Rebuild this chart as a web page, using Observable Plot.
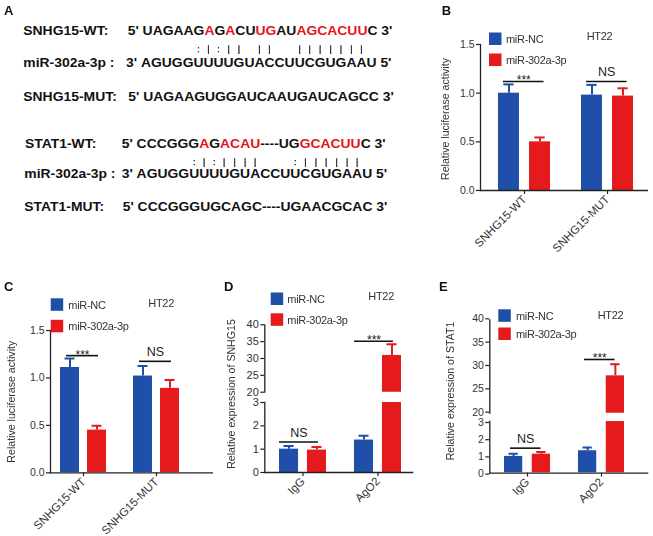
<!DOCTYPE html>
<html><head><meta charset="utf-8">
<script src="https://cdn.jsdelivr.net/npm/d3@7"></script>
<script src="https://cdn.jsdelivr.net/npm/@observablehq/plot@0.6"></script>
<style>
html,body{margin:0;padding:0;background:#fff;}
#fig{position:relative;width:653px;height:536px;overflow:hidden;background:#fff;}
#fig svg{position:absolute;overflow:visible;}
.pairs{opacity:0.99;will-change:transform;}
</style></head>
<body><div id="fig"></div>
<script>
const FONT = '"Liberation Sans", Arial, Helvetica, sans-serif';
const BLUE = "#1f4fa8", RED = "#e41a1c", SEQRED = "#e8141b";

// ---------- Panel A data ----------
const miR302 = "AGUGGUUUUGUACCUUCGUGAAU";
const snhg15WT = "UAGAAGAGACUUGAUAGCACUUC";
const snhg15WTred = "00000010100110011111110";
const snhg15MUT = "UAGAAGUGGAUCAAUGAUCAGCC";
const snhg15Pairs = "     :|:|| ||  |||||||";
const stat1WT = "CCCGGGAGACAU----UGGCACUUC";
const stat1WTred = "0000001011110000001111110";
const stat1MUT = "CCCGGGUGCAGC----UGAACGCAC";
const stat1Pairs = "     :|:||||   :||||||";

// ---------- Panels B-E data ----------
const seriesNames = ["miR-NC", "miR-302a-3p"];
const seriesColors = [BLUE, RED];
const cellLine = "HT22";

const bGroups = ["SNHG15-WT", "SNHG15-MUT"];
const bNC = [1.00, 0.98];
const bNCsd = [0.09, 0.105];
const bMiR = [0.50, 0.97];
const bMiRsd = [0.045, 0.08];
const bSigY = [1.12, 1.12];
const bSigText = ["***", "NS"];

const cGroups = ["SNHG15-WT", "SNHG15-MUT"];
const cNC = [1.11, 1.02];
const cNCsd = [0.095, 0.105];
const cMiR = [0.45, 0.89];
const cMiRsd = [0.045, 0.088];
const cSigY = [1.235, 1.175];
const cSigText = ["***", "NS"];

const dGroups = ["IgG", "AgO2"];
const dNC = [1.0, 1.39];
const dNCsd = [0.14, 0.18];
const dMiR = [0.96, 30.9];
const dMiRsd = [0.13, 3.3];
const dSigY = [1.31, 35.1];
const dSigText = ["NS", "***"];

const eGroups = ["IgG", "AgO2"];
const eNC = [0.97, 1.3];
const eNCsd = [0.15, 0.19];
const eMiR = [1.1, 28.0];
const eMiRsd = [0.13, 2.5];
const eSigY = [1.45, 31.5];
const eSigText = ["NS", "***"];

const yLabelLuc = "Relative luciferase activity";
const yLabelD = "Relative expression of SNHG15";
const yLabelE = "Relative expression of STAT1";

// ---------- helpers ----------
const NS = "http://www.w3.org/2000/svg";
const fig = document.getElementById("fig");
function el(tag, attrs, parent, text) {
  const e = document.createElementNS(NS, tag);
  for (const k in attrs) e.setAttribute(k, attrs[k]);
  if (text != null) e.textContent = text;
  if (parent) parent.appendChild(e);
  return e;
}

// ---------- Panel A ----------
const aSvg = el("svg", {width: 653, height: 536, style: "left:0;top:0"}, fig);
const SX = 1.14, FS = 12.2;
function label(x, y, txt) {
  const g = el("g", {transform: `translate(${x},${y}) scale(${SX},1)`}, aSvg);
  el("text", {x: 0, y: 0, "font-family": FONT, "font-size": FS, "font-weight": "bold", fill: "#111"}, g, txt);
}
function seqRow(x, y, prefix, seq, mask, suffix) {
  const g = el("g", {transform: `translate(${x},${y}) scale(${SX},1)`}, aSvg);
  const t = el("text", {x: 0, y: 0, "font-family": FONT, "font-size": FS, "font-weight": "bold", fill: "#111"}, g);
  t.setAttribute("xml:space", "preserve");
  el("tspan", {}, t, prefix);
  let i = 0;
  while (i < seq.length) {
    const red = mask ? mask[i] === "1" : false;
    let j = i;
    while (j < seq.length && (mask ? mask[j] === "1" : false) === red) j++;
    el("tspan", red ? {fill: SEQRED} : {}, t, seq.slice(i, j));
    i = j;
  }
  el("tspan", {}, t, suffix);
  return {g, t, x, offset: prefix.length};
}
function pairRow(ref, y, pairs) {
  const g = el("g", {class: "pairs"}, aSvg);
  for (let i = 0; i < pairs.length; i++) {
    const c = pairs[i];
    if (c === " ") continue;
    const ext = ref.t.getExtentOfChar(ref.offset + i);
    el("text", {x: ref.x + (ext.x + ext.width / 2) * SX, y, "text-anchor": "middle", "font-family": FONT,
      "font-size": 9, fill: "#1a1a1a", stroke: "#1a1a1a", "stroke-width": 0.35,
      "text-rendering": "geometricPrecision"}, g, c);
  }
}
// SNHG15 block
label(23.3, 35, "SNHG15-WT:");
seqRow(127.7, 35, "5' ", snhg15WT, snhg15WTred, " 3'");
label(23.3, 66.7, "miR-302a-3p :");
const mir1 = seqRow(126, 66.7, "3' ", miR302, null, " 5'");
pairRow(mir1, 51.5, snhg15Pairs);
label(23.3, 101, "SNHG15-MUT:");
seqRow(128.3, 101, "5' ", snhg15MUT, null, " 3'");
// STAT1 block
label(25, 147.5, "STAT1-WT:");
seqRow(121.7, 147.5, "5' ", stat1WT, stat1WTred, " 3'");
label(24.3, 177.5, "miR-302a-3p :");
const mir2 = seqRow(121.7, 177.5, "3' ", miR302, null, " 5'");
pairRow(mir2, 165, stat1Pairs);
label(24.3, 211, "STAT1-MUT:");
seqRow(122.7, 211, "5' ", stat1MUT, null, " 3'");

// ---------- bar panels ----------
function makeRows(groups, nc, ncSd, mir, mirSd) {
  return groups.flatMap((g, i) => [
    {group: g, series: seriesNames[0], value: nc[i], err: ncSd[i]},
    {group: g, series: seriesNames[1], value: mir[i], err: mirSd[i]}
  ]);
}
function makeSig(groups, ys, texts) {
  return groups.map((g, i) => ({group: g, y: ys[i], label: texts[i]}));
}
function drawPart(cfg, part, rows, sig) {
  const plotW = part.width - part.mL - part.mR;
  const n = cfg.groups.length;
  const step = plotW / Math.max(1, n - cfg.pi + 2 * cfg.po);
  const bw = step * (1 - cfg.pi);
  const barW = bw * cfg.barFrac;
  const ins = bw - barW;
  const off = ins / 2;
  const cap = 10;
  const ncRows = rows.filter(d => d.series === seriesNames[0]);
  const mrRows = rows.filter(d => d.series === seriesNames[1]);
  const [y0, y1] = part.domain;
  const sigHere = sig.filter(d => d.y >= y0 && d.y <= y1);
  const stars = sigHere.filter(d => d.label !== "NS");
  const nsTxt = sigHere.filter(d => d.label === "NS");
  const sdx = (cfg.sigL - cfg.sigR) / 2;
  const marks = [
    Plot.barY(ncRows, {x: "group", y: "value", fill: seriesColors[0], insetRight: ins, clip: true}),
    Plot.barY(mrRows, {x: "group", y: "value", fill: seriesColors[1], insetLeft: ins, clip: true}),
    Plot.ruleX(ncRows, {x: "group", y1: "value", y2: d => d.value + d.err, stroke: seriesColors[0], strokeWidth: 2, dx: -off, clip: true}),
    Plot.ruleX(mrRows, {x: "group", y1: "value", y2: d => d.value + d.err, stroke: seriesColors[1], strokeWidth: 2, dx: off, clip: true}),
    Plot.tickY(ncRows, {x: "group", y: d => d.value + d.err, stroke: seriesColors[0], strokeWidth: 2,
      insetLeft: barW / 2 - cap / 2, insetRight: bw - barW / 2 - cap / 2, clip: true}),
    Plot.tickY(mrRows, {x: "group", y: d => d.value + d.err, stroke: seriesColors[1], strokeWidth: 2,
      insetLeft: bw - barW / 2 - cap / 2, insetRight: barW / 2 - cap / 2, clip: true}),
    Plot.tickY(sigHere, {x: "group", y: "y", stroke: "#111", strokeWidth: 1.6, insetLeft: cfg.sigL, insetRight: cfg.sigR}),
    Plot.text(stars, {x: "group", y: "y", text: "label", lineAnchor: "bottom", dx: sdx, dy: 3, fontSize: 12, fill: "#222"}),
    Plot.text(nsTxt, {x: "group", y: "y", text: "label", lineAnchor: "bottom", dx: sdx, dy: -5, fontSize: 12.5, fill: "#222"}),
    Plot.axisY({ticks: part.ticks, tickFormat: part.fmt, tickSize: 4, tickPadding: 2, fontSize: cfg.tickFont, fill: "#333", label: null, strokeWidth: 1.2, dy: part.tickDy || 0}),
    Plot.frame({anchor: "left", strokeWidth: 1.3})
  ];
  if (part.xAxis) {
    marks.push(Plot.ruleY([y0], {strokeWidth: 1.3}));
    marks.push(Plot.axisX({tickRotate: -45, tickSize: 4, tickPadding: 3, fontSize: 11.5, fill: "#333", label: null, strokeWidth: 1.2}));
  }
  const p = Plot.plot({
    width: part.width, height: part.height,
    marginLeft: part.mL, marginRight: part.mR, marginTop: part.mT, marginBottom: part.mB,
    style: {fontFamily: FONT, fontSize: "10px", color: "#222", background: "transparent", overflow: "visible"},
    x: {domain: cfg.groups, paddingInner: cfg.pi, paddingOuter: cfg.po, align: cfg.align, axis: part.xAxis ? undefined : null},
    y: {domain: part.domain},
    marks
  });
  p.style.position = "absolute";
  p.style.left = part.left + "px";
  p.style.top = part.top + "px";
  fig.appendChild(p);
}
function panel(cfg) {
  const rows = makeRows(cfg.groups, cfg.nc, cfg.ncSd, cfg.mir, cfg.mirSd);
  const sig = makeSig(cfg.groups, cfg.sigY, cfg.sigText);
  for (const part of cfg.parts) drawPart(cfg, part, rows, sig);
}

panel({groups: bGroups, nc: bNC, ncSd: bNCsd, mir: bMiR, mirSd: bMiRsd, sigY: bSigY, sigText: bSigText,
  pi: 0.377, po: 0.2, align: 0.55, barFrac: 0.4, sigL: 5, sigR: 6.5, tickFont: 10.5,
  parts: [{left: 420, top: 0, width: 233, height: 270, mL: 60, mR: 5, mT: 44, mB: 80,
    domain: [0, 1.5], ticks: [0, 0.5, 1, 1.5], fmt: ".1f", xAxis: true}]});

panel({groups: cGroups, nc: cNC, ncSd: cNCsd, mir: cMiR, mirSd: cMiRsd, sigY: cSigY, sigText: cSigText,
  pi: 0.372, po: 0.298, align: 0.23, barFrac: 0.413, sigL: 6, sigR: 8, tickFont: 10.5,
  parts: [{left: 0, top: 270, width: 220, height: 266, mL: 50, mR: 7, mT: 60, mB: 63.7,
    domain: [0, 1.5], ticks: [0, 0.5, 1, 1.5], fmt: ".1f", xAxis: true}]});

panel({groups: dGroups, nc: dNC, ncSd: dNCsd, mir: dMiR, mirSd: dMiRsd, sigY: dSigY, sigText: dSigText,
  pi: 0.375, po: 0.18, align: 0.55, barFrac: 0.404, sigL: 0, sigR: 8, tickFont: 11,
  parts: [
    {left: 220, top: 300, width: 215, height: 91.7, mL: 44.3, mR: 21.7, mT: 24.3, mB: 0,
      domain: [20, 40], ticks: [20, 25, 30, 35, 40], fmt: "d", xAxis: false},
    {left: 220, top: 392.3, width: 215, height: 143.7, mL: 44.3, mR: 21.7, mT: 10, mB: 63.7,
      domain: [0, 3], ticks: [0, 1, 2, 3], fmt: "d", xAxis: true}]});

panel({groups: eGroups, nc: eNC, ncSd: eNCsd, mir: eMiR, mirSd: eMiRsd, sigY: eSigY, sigText: eSigText,
  pi: 0.377, po: 0.25, align: 0.375, barFrac: 0.405, sigL: 6, sigR: 9.5, tickFont: 10.5,
  parts: [
    {left: 435, top: 300, width: 218, height: 112.7, mL: 54.3, mR: 4.7, mT: 19.3, mB: 0,
      domain: [20, 40], ticks: [20, 25, 30, 35, 40], fmt: "d", xAxis: false, tickDy: -1},
    {left: 435, top: 410.7, width: 218, height: 125.3, mL: 54.3, mR: 4.7, mT: 10, mB: 63.7,
      domain: [0, 3], ticks: [0, 1, 2, 3], fmt: "d", xAxis: true, tickDy: 1}]});

// ---------- overlay: panel letters, legends, y labels ----------
const ov = el("svg", {width: 653, height: 536, style: "left:0;top:0;pointer-events:none"}, fig);
[["A", 4, 14.5], ["B", 441.7, 15.2], ["C", 4, 290.8], ["D", 224, 290.5], ["E", 439, 290.5]].forEach(([t, x, y]) =>
  el("text", {x, y, "font-family": FONT, "font-size": 13, "font-weight": "bold", fill: "#111"}, ov, t));

function legend(x, y1, y2, tx, htx, hty) {
  [y1, y2].forEach((y, i) => {
    el("rect", {x, y, width: 12.5, height: 12.5, fill: seriesColors[i]}, ov);
    el("text", {x: tx, y: y + 10.3, "font-family": FONT, "font-size": 11, fill: "#333", "letter-spacing": "-0.3"}, ov, seriesNames[i]);
  });
  el("text", {x: htx, y: hty, "font-family": FONT, "font-size": 11, fill: "#333", "letter-spacing": "-0.3"}, ov, cellLine);
}
legend(489, 32.5, 53.5, 506, 586.7, 39.7);
legend(50.7, 298.3, 319.8, 68.3, 148.3, 307.2);
legend(270.7, 292.5, 313.3, 287.3, 368.3, 300);
legend(498.3, 309.3, 327.5, 516, 597.7, 319);

function ylab(cx, cy, t) {
  el("text", {transform: `translate(${cx},${cy}) rotate(-90)`, "text-anchor": "middle", dy: "0.35em",
    "font-family": FONT, "font-size": 10.6, fill: "#333"}, ov, t);
}
ylab(445.3, 119, yLabelLuc);
ylab(11.7, 401.7, yLabelLuc);
ylab(231.7, 394, yLabelD);
ylab(450, 391, yLabelE);
</script>
</body></html>
